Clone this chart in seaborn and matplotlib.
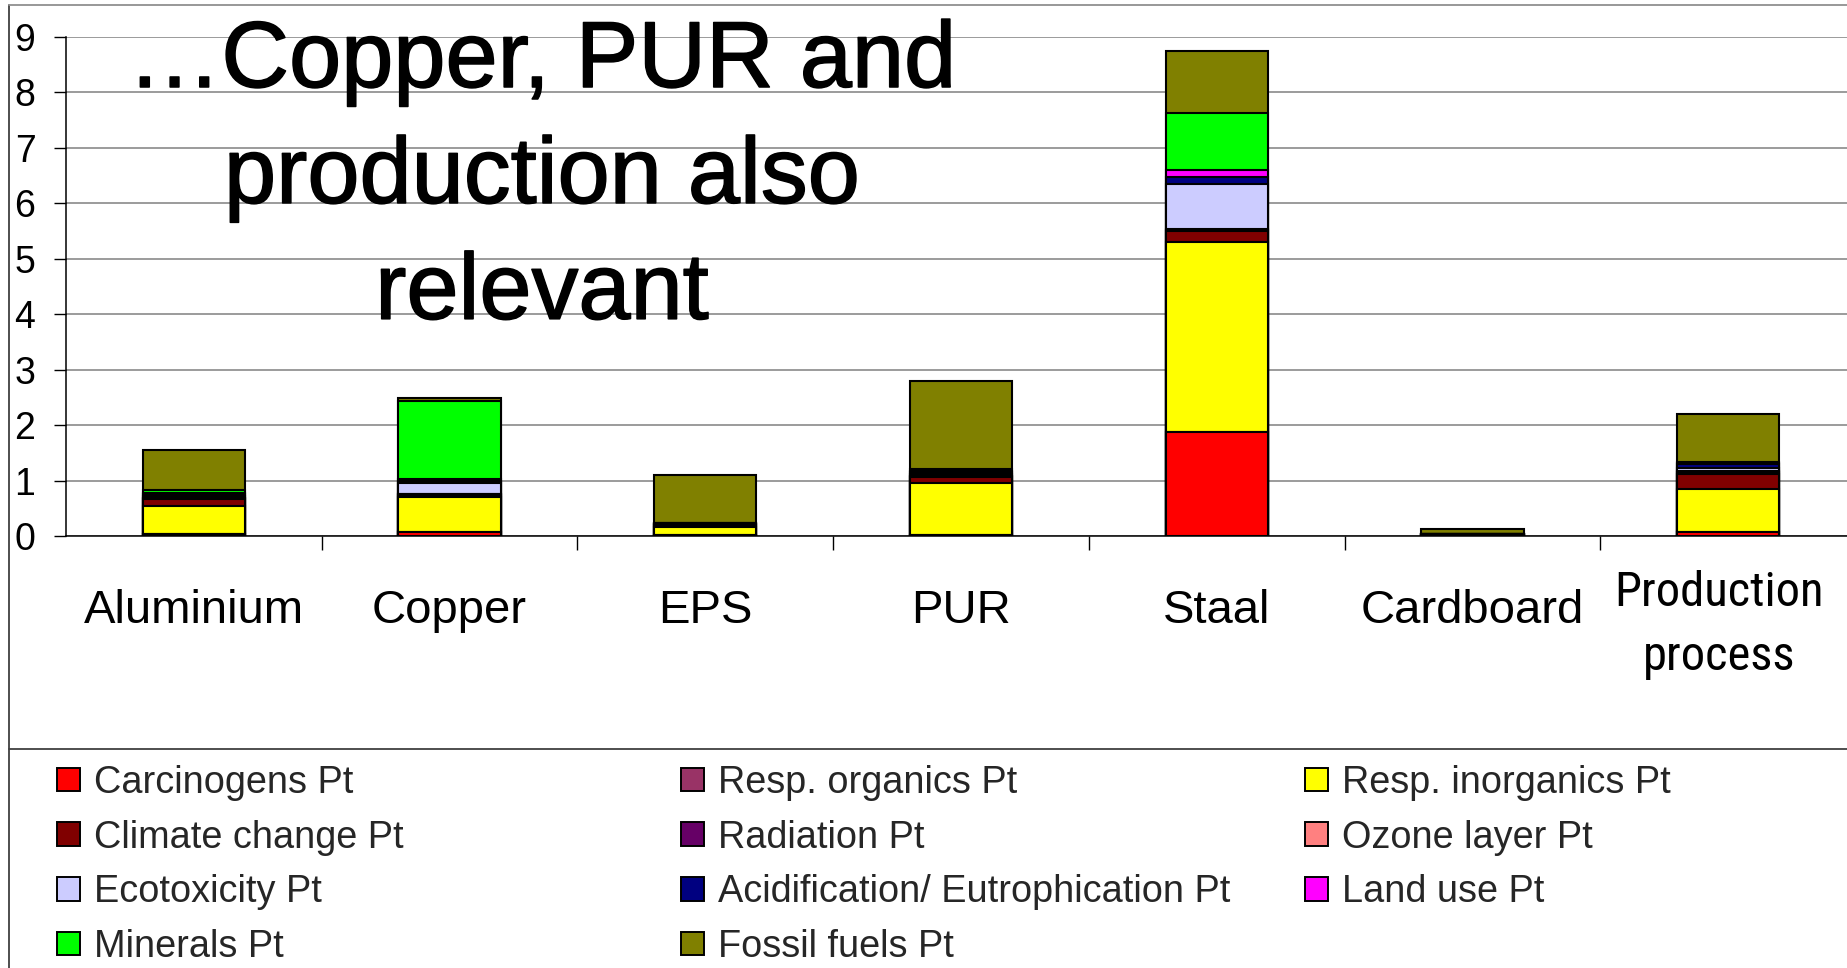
import matplotlib
matplotlib.use('Agg')
import matplotlib.pyplot as plt
from matplotlib import font_manager
from matplotlib import patheffects
from matplotlib.font_manager import FontProperties
from matplotlib.patches import Patch
from matplotlib.lines import Line2D
from matplotlib.ticker import FixedLocator
from matplotlib.transforms import ScaledTranslation
import numpy as np
import seaborn as sns

#-- data (thin segments show up as black bands) --
materials = ['Aluminium', 'Copper', 'EPS', 'PUR', 'Staal', 'Cardboard', 'Production\nprocess']
categories = ['Carcinogens Pt', 'Resp. organics Pt', 'Resp. inorganics Pt', 'Climate change Pt',
              'Radiation Pt', 'Ozone layer Pt', 'Ecotoxicity Pt', 'Acidification/ Eutrophication Pt',
              'Land use Pt', 'Minerals Pt', 'Fossil fuels Pt']
carcinogens   = [0.04, 0.08, 0.01, 0.01, 1.87, 0.01, 0.08]
resp_organics = [0.00, 0.00, 0.00, 0.00, 0.00, 0.00, 0.00]
resp_inorg    = [0.50, 0.62, 0.16, 0.94, 3.43, 0.01, 0.77]
climate       = [0.12, 0.04, 0.03, 0.11, 0.20, 0.01, 0.27]
radiation     = [0.02, 0.02, 0.01, 0.02, 0.02, 0.00, 0.04]
ozone         = [0.01, 0.00, 0.00, 0.00, 0.01, 0.00, 0.02]
ecotoxicity   = [0.03, 0.19, 0.01, 0.03, 0.82, 0.00, 0.05]
acidification = [0.04, 0.05, 0.02, 0.05, 0.11, 0.00, 0.06]
land_use      = [0.02, 0.03, 0.00, 0.02, 0.13, 0.00, 0.02]
minerals      = [0.05, 1.40, 0.00, 0.02, 1.04, 0.00, 0.02]
fossil        = [0.72, 0.06, 0.86, 1.59, 1.10, 0.10, 0.87]
colors = ['#FF0000', '#993366', '#FFFF00', '#800000', '#660066', '#FF8080',
          '#CCCCFF', '#000080', '#FF00FF', '#00FF00', '#808000']

values = np.array([carcinogens, resp_organics, resp_inorg, climate, radiation, ozone,
                   ecotoxicity, acidification, land_use, minerals, fossil])
cum = values.cumsum(axis=0)

sns.set_theme(style='white')
plt.rcParams['font.family'] = ['Liberation Sans', 'DejaVu Sans']

#-- look for a condensed sans face for the "Production process" label --
def find_condensed():
    prefs = ['liberation sans narrow', 'roboto condensed', 'dejavu sans condensed',
             'open sans condensed', 'noto sans condensed', 'noto sans', 'open sans', 'roboto']
    found = []
    for f in font_manager.fontManager.ttflist:
        nm = f.name.lower()
        cond = f.stretch in ('condensed', 'semi-condensed', 'extra-condensed') \
            or 'narrow' in nm or 'condensed' in nm
        if cond and f.style == 'normal' and f.weight in (400, 'normal', 'regular', 'book'):
            rank = prefs.index(nm) if nm in prefs else len(prefs)
            found.append((rank, f.fname))
    if found:
        found.sort()
        return found[0][1]
    return None

W, H = 1847, 968
fig = plt.figure(figsize=(W / 100, H / 100), dpi=100)
ax = fig.add_axes([66 / W, 1 - 536 / H, (1856 - 66) / W, (536 - 36.5) / H])

# stacked bars: draw cumulative tops from the top segment down
for i in reversed(range(len(categories))):
    sns.barplot(x=materials, y=cum[i], order=materials, color=colors[i], saturation=1,
                edgecolor='black', linewidth=1.5, width=0.4, errorbar=None, ax=ax)

ax.set_xlim(-0.5, 6.5)
ax.set_ylim(0, 9)
ax.set_yticks(range(10))
ax.set_xlabel('')
ax.set_ylabel('')
ax.yaxis.grid(True, color='#808080', linewidth=1.1)
ax.set_axisbelow(True)
for s in ['top', 'right']:
    ax.spines[s].set_visible(False)
for s in ['left', 'bottom']:
    ax.spines[s].set_color('black')
    ax.spines[s].set_linewidth(1.1)

ax.tick_params(axis='y', left=True, length=9, width=1, pad=13, labelsize=27, colors='black')
ax.tick_params(axis='x', which='major', bottom=True, length=0, pad=38, labelsize=34, labelcolor='black')
ax.xaxis.set_minor_locator(FixedLocator([0.5, 1.5, 2.5, 3.5, 4.5, 5.5]))
ax.tick_params(axis='x', which='minor', bottom=True, length=10, width=1, color='black', direction='out')

lbl = ax.get_xticklabels()[-1]
cond_file = find_condensed()
if cond_file:
    psize = 35
    lbl.set_fontproperties(FontProperties(fname=cond_file, size=psize))
else:
    psize = 31
    lbl.set_fontsize(psize)
lbl.set_linespacing(67 / (0.908 * psize * 100 / 72))
lbl.set_transform(lbl.get_transform() + ScaledTranslation(-0.09, 0.19, fig.dpi_scale_trans))

fig.text(542 / W, 1 - 18 / H, '\u2026Copper, PUR and\nproduction also\nrelevant',
         ha='center', va='top', fontsize=67.5, linespacing=1.39, color='black',
         path_effects=[patheffects.withStroke(linewidth=1.1, foreground='black')])

# legend in three columns, filled row-wise like the original
handles = [Patch(facecolor=c, edgecolor='black', linewidth=1.4) for c in colors]
cols = [[0, 3, 6, 9], [1, 4, 7, 10], [2, 5, 8]]
xs = [57 / W, 681 / W, 1305 / W]
for col, x in zip(cols, xs):
    fig.legend([handles[j] for j in col], [categories[j] for j in col], loc='upper left',
               bbox_to_anchor=(x, 1 - 765 / H), frameon=False, fontsize=27.3,
               borderpad=0, borderaxespad=0, handlelength=0.6, handleheight=0.58,
               handletextpad=0.38, labelspacing=0.49)

# chart frame lines
fig.add_artist(Line2D([9 / W, 1], [1 - 749 / H, 1 - 749 / H], color='#404040', linewidth=1.3))
fig.add_artist(Line2D([9 / W, 9 / W], [0, 1 - 5 / H], color='#404040', linewidth=1.3))
fig.add_artist(Line2D([9 / W, 1], [1 - 5 / H, 1 - 5 / H], color='#909090', linewidth=1.3))

fig.savefig('out.png', dpi=100, facecolor='white')
